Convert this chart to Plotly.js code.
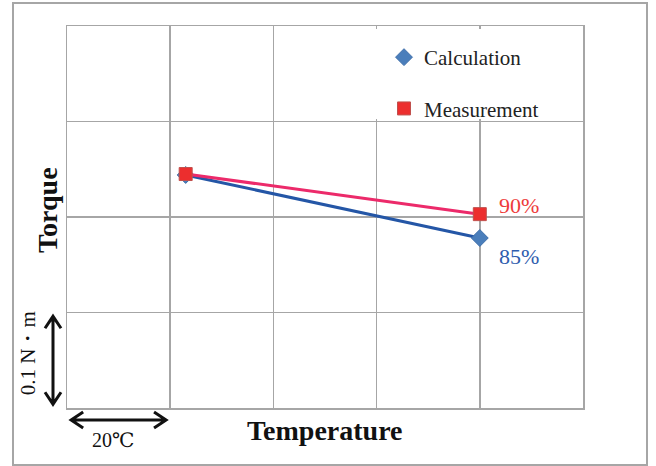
<!DOCTYPE html>
<html>
<head>
<meta charset="utf-8">
<script src="https://cdn.plot.ly/plotly-3.0.1.min.js"></script>
<style>html,body{margin:0;padding:0;background:#fff;}#chart{width:656px;height:466px;}</style>
</head>
<body>
<div id="chart"></div>
<script>
// Data (x: °C offset on grid, y: N·m on grid)
const seriesNames = ['Calculation', 'Measurement'];
const tempX = [23, 80];
const calcTorque = [0.244, 0.178];
const measTorque = [0.245, 0.203];
const pctLabels = ['85%', '90%'];

const serif = '"Liberation Serif", "Times New Roman", "DejaVu Serif", serif';
const gridCol = '#A6A6A6';

const traces = [
  {x: tempX, y: calcTorque, mode: 'lines', line: {color: '#2456A6', width: 3}, showlegend: false, hoverinfo: 'skip'},
  {x: tempX, y: calcTorque, mode: 'markers', name: seriesNames[0], legendgroup: 'a',
   marker: {symbol: 'diamond', size: 13, color: '#4A7EBB', line: {color: '#3F6FAA', width: 1}}},
  {x: tempX, y: measTorque, mode: 'lines', line: {color: '#EC2A6A', width: 3}, showlegend: false, hoverinfo: 'skip'},
  {x: tempX, y: measTorque, mode: 'markers', name: seriesNames[1], legendgroup: 'b',
   marker: {symbol: 'square', size: 13, color: '#EC2E2E', line: {color: '#C0504D', width: 1}}}
];

const pxX = 1 / 516, pxY = 1 / 382;
const vArrowX = -14 * pxX;
const hArrowY = -12 * pxY;
const headL_y = 11 * 0.4 / 382, headW_x = 8 * pxX;
const headL_x = 11 * 100 / 516, headW_y = 8 * pxY;

const shapes = [
  {type: 'rect', xref: 'paper', yref: 'paper', x0: -54 * pxX, x1: 580 * pxX, y0: -57 * pxY, y1: 405 * pxY,
   line: {color: '#A6A6A6', width: 2}, fillcolor: 'rgba(0,0,0,0)', layer: 'below'},
  {type: 'rect', xref: 'paper', yref: 'paper', x0: 303 * pxX, x1: 511 * pxX, y0: 289 * pxY, y1: 379 * pxY,
   line: {width: 0}, fillcolor: '#ffffff', layer: 'above'},
  {type: 'path', xref: 'paper', yref: 'y', layer: 'above', line: {color: '#111', width: 3},
   path: `M ${vArrowX},0.006 L ${vArrowX},0.094 M ${vArrowX - headW_x},${0.095 - headL_y} L ${vArrowX},0.096 L ${vArrowX + headW_x},${0.095 - headL_y} M ${vArrowX - headW_x},${0.005 + headL_y} L ${vArrowX},0.004 L ${vArrowX + headW_x},${0.005 + headL_y}`},
  {type: 'path', xref: 'x', yref: 'paper', layer: 'above', line: {color: '#111', width: 3},
   path: `M 1.2,${hArrowY} L 18.8,${hArrowY} M ${19 - headL_x},${hArrowY + headW_y} L 19.2,${hArrowY} L ${19 - headL_x},${hArrowY - headW_y} M ${1 + headL_x},${hArrowY + headW_y} L 0.8,${hArrowY} L ${1 + headL_x},${hArrowY - headW_y}`}
];

const annotations = [
  {x: tempX[1], y: measTorque[1], xref: 'x', yref: 'y', text: pctLabels[1], showarrow: false,
   xanchor: 'left', xshift: 17, yshift: 9, font: {family: serif, size: 22, color: '#EE3B3B'}},
  {x: tempX[1], y: calcTorque[1], xref: 'x', yref: 'y', text: pctLabels[0], showarrow: false,
   xanchor: 'left', xshift: 17, yshift: -18, font: {family: serif, size: 22, color: '#2F5DAE'}},
  {x: -19 * pxX, y: 0.5 + 7 * pxY, xref: 'paper', yref: 'paper', text: '<b>Torque</b>', textangle: -90, showarrow: false,
   xanchor: 'center', font: {family: serif, size: 28, color: '#111'}},
  {x: 0.5, y: -22 * pxY, xref: 'paper', yref: 'paper', text: '<b>Temperature</b>', showarrow: false,
   yanchor: 'middle', font: {family: serif, size: 28, color: '#111'}},
  {x: -39 * pxX, y: 0.05, xref: 'paper', yref: 'y', xshift: -14, yshift: 7, text: '0.1 N・m', textangle: -90, showarrow: false,
   font: {family: serif, size: 21, color: '#111'}},
  {x: 10, y: -32 * pxY, xref: 'x', yref: 'paper', xshift: -6, text: '20℃', showarrow: false,
   yanchor: 'middle', font: {family: serif, size: 20, color: '#111'}}
];

const axisCommon = {showticklabels: false, ticks: '', showgrid: true, gridcolor: gridCol, gridwidth: 1.5,
  showline: true, linecolor: gridCol, linewidth: 1.5, mirror: true, zeroline: false, fixedrange: true};

const layout = {
  width: 656, height: 466,
  margin: {l: 67, r: 73, t: 26, b: 58},
  paper_bgcolor: '#ffffff', plot_bgcolor: '#ffffff',
  xaxis: Object.assign({range: [0, 100], dtick: 20, tick0: 0}, axisCommon),
  yaxis: Object.assign({range: [0, 0.4], dtick: 0.1, tick0: 0}, axisCommon),
  showlegend: true,
  legend: {x: 317 * pxX, y: 371 * pxY, xanchor: 'left', yanchor: 'top', bgcolor: 'rgba(0,0,0,0)',
    traceorder: 'grouped', tracegroupgap: 21, itemwidth: 30, font: {family: serif, size: 21, color: '#222'}},
  shapes: shapes,
  annotations: annotations
};

Plotly.newPlot('chart', traces, layout, {displayModeBar: false, staticPlot: true});
</script>
</body>
</html>
